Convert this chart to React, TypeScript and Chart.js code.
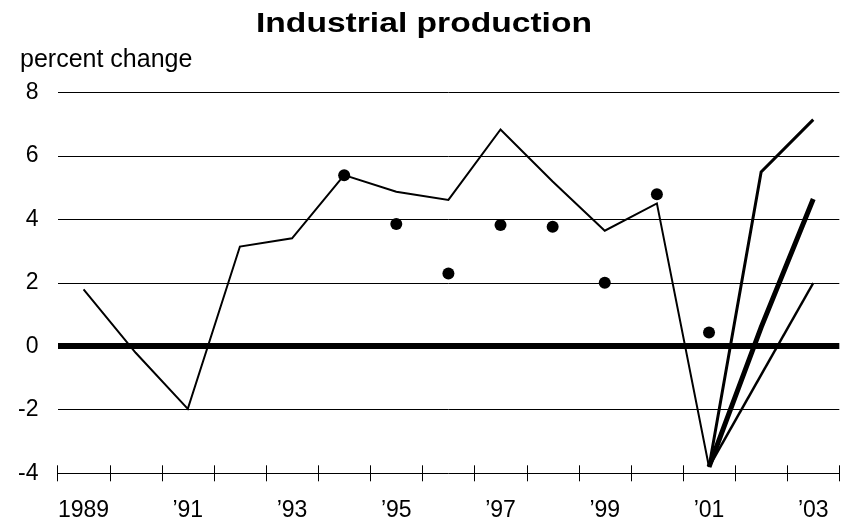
import React, { useEffect, useRef } from 'react';
import { Chart, registerables } from 'chart.js';

Chart.register(...registerables);

const years = ['1989', '1990', '1991', '1992', '1993', '1994', '1995', '1996', '1997', '1998', '1999', '2000', '2001', '2002', '2003'];
const tickLabels = ['1989', '', '’91', '', '’93', '', '’95', '', '’97', '', '’99', '', '’01', '', '’03'];
const actual = [1.8, -0.2, -1.97, 3.15, 3.41, 5.4, 4.88, 4.62, 6.84, 5.2, 3.65, 4.51, -3.8, null, null];
const forecastHigh = [null, null, null, null, null, null, null, null, null, null, null, null, -3.8, 5.5, 7.15];
const forecastMid = [null, null, null, null, null, null, null, null, null, null, null, null, -3.8, 0.6, 4.65];
const forecastLow = [null, null, null, null, null, null, null, null, null, null, null, null, -3.8, -0.9, 2.0];
const survey = [null, null, null, null, null, 5.4, 3.86, 2.3, 3.83, 3.77, 2.01, 4.8, 0.44, null, null];
const titleText = 'Industrial production';
const unitText = 'percent change';
const yMin = -4;
const yMax = 8;
const yStep = 2;

const FONT = '"Liberation Sans", Arial, Helvetica, sans-serif';

const decorPlugin = {
  id: 'decor',
  afterDraw(chart: any) {
    const ctx = chart.ctx;
    const xs = chart.scales.x;
    const ys = chart.scales.y;
    const base = ys.getPixelForValue(yMin);
    const step = xs.getPixelForValue(1) - xs.getPixelForValue(0);
    const start = xs.getPixelForValue(0) - step / 2;
    ctx.save();
    ctx.strokeStyle = '#000';
    ctx.lineWidth = 1;
    for (let i = 0; i <= years.length; i++) {
      const px = Math.round(start + i * step) + 0.5;
      ctx.beginPath();
      ctx.moveTo(px, base - 8);
      ctx.lineTo(px, base + 8);
      ctx.stroke();
    }
    // title
    ctx.fillStyle = '#000';
    ctx.font = 'bold 28px ' + FONT;
    ctx.textAlign = 'center';
    ctx.textBaseline = 'alphabetic';
    ctx.save();
    ctx.translate(424, 32);
    ctx.scale(1.2, 1);
    ctx.fillText(titleText, 0, 0);
    ctx.restore();
    // unit label
    ctx.font = '25px ' + FONT;
    ctx.textAlign = 'left';
    ctx.fillText(unitText, 20, 67);
    ctx.restore();
  },
};

export default function App() {
  const ref = useRef<HTMLCanvasElement | null>(null);

  useEffect(() => {
    document.body.style.margin = '0';
    const canvas = ref.current;
    if (!canvas) return;
    Chart.defaults.font.family = FONT;
    Chart.defaults.color = '#000';

    const lineBase = {
      borderColor: '#000',
      backgroundColor: '#000',
      pointRadius: 0,
      pointHoverRadius: 0,
      tension: 0,
      fill: false,
      spanGaps: false,
    };

    const chart = new Chart(canvas, {
      type: 'line',
      data: {
        labels: years,
        datasets: [
          { ...lineBase, label: 'actual', data: actual, borderWidth: 2 },
          { ...lineBase, label: 'high', data: forecastHigh, borderWidth: 3 },
          { ...lineBase, label: 'mid', data: forecastMid, borderWidth: 5 },
          { ...lineBase, label: 'low', data: forecastLow, borderWidth: 2.5 },
          {
            label: 'survey',
            data: survey,
            showLine: false,
            pointRadius: 6,
            pointBorderWidth: 0,
            pointBackgroundColor: '#000',
            pointBorderColor: '#000',
            borderColor: '#000',
            backgroundColor: '#000',
          },
        ],
      },
      options: {
        animation: false,
        responsive: false,
        devicePixelRatio: 1,
        layout: { padding: { top: 92.7, right: 12, left: 0, bottom: 0 } },
        plugins: {
          legend: { display: false },
          title: { display: false },
          tooltip: { enabled: false },
        },
        scales: {
          x: {
            type: 'category',
            offset: true,
            grid: { display: false, drawTicks: false },
            border: { display: false },
            ticks: {
              autoSkip: false,
              maxRotation: 0,
              minRotation: 0,
              padding: 24,
              font: { size: 23, family: FONT },
              color: '#000',
              callback: (_v: any, i: number) => tickLabels[i],
            },
            afterFit: (scale: any) => {
              scale.height = 49.7;
            },
          },
          y: {
            min: yMin,
            max: yMax,
            grid: {
              color: '#000',
              drawTicks: false,
              lineWidth: (c: any) => (c.tick && c.tick.value === 0 ? 6 : 1),
            },
            border: { display: false },
            ticks: {
              stepSize: yStep,
              padding: 19,
              font: { size: 23, family: FONT },
              color: '#000',
            },
            afterFit: (scale: any) => {
              scale.width = 57.5;
            },
          },
        },
      },
      plugins: [decorPlugin],
    });
    return () => chart.destroy();
  }, []);

  return (
    <div style={{ width: 853, height: 523 }}>
      <canvas ref={ref} width={853} height={523} style={{ display: 'block' }} />
    </div>
  );
}
